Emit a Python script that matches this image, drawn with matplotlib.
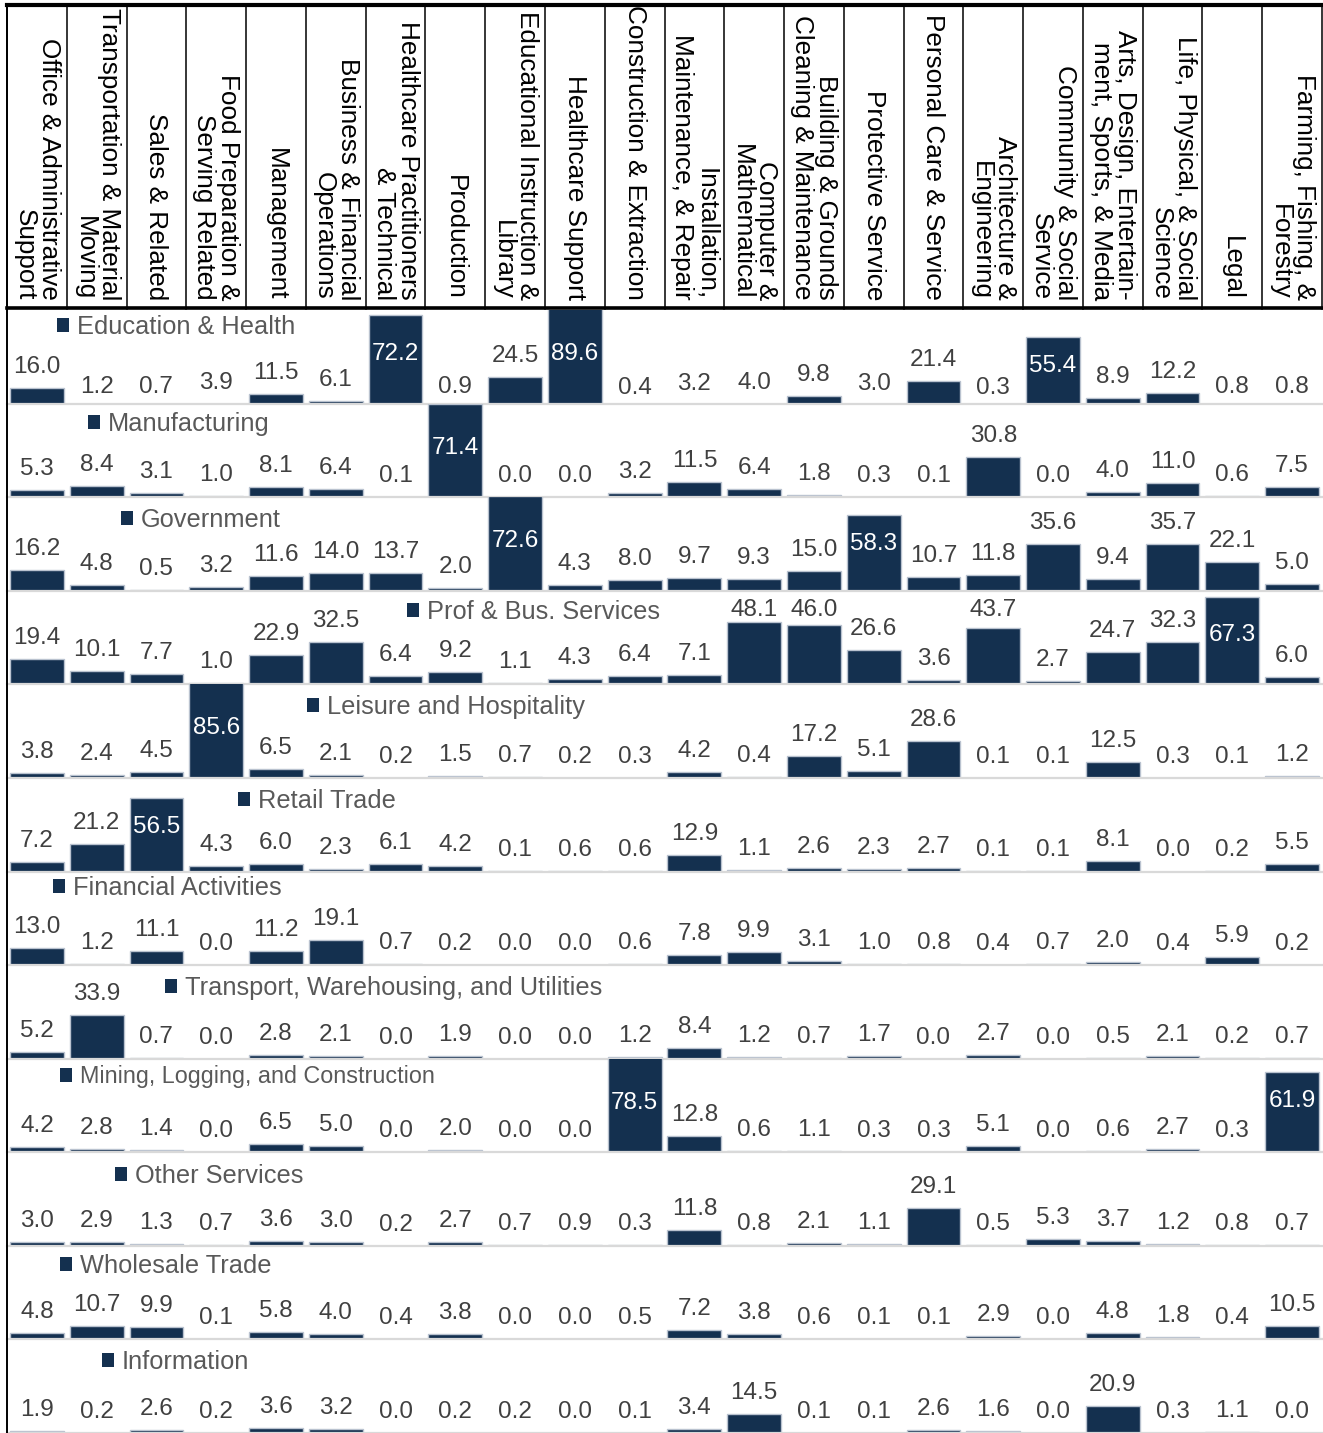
import matplotlib
matplotlib.use("Agg")
import matplotlib.pyplot as plt
from matplotlib.patches import Patch
from matplotlib.lines import Line2D

plt.rcParams['font.family'] = ['Liberation Sans', 'DejaVu Sans']

# ---------------- data ----------------
occupations = [
    "Office & Administrative\nSupport",
    "Transportation & Material\nMoving",
    "Sales & Related",
    "Food Preparation &\nServing Related",
    "Management",
    "Business & Financial\nOperations",
    "Healthcare Practitioners\n& Technical",
    "Production",
    "Educational Instruction &\nLibrary",
    "Healthcare Support",
    "Construction & Extraction",
    "Installation,\nMaintenance, & Repair",
    "Computer &\nMathematical",
    "Building & Grounds\nCleaning & Maintenance",
    "Protective Service",
    "Personal Care & Service",
    "Architecture &\nEngineering",
    "Community & Social\nService",
    "Arts, Design, Entertain-\nment, Sports, & Media",
    "Life, Physical, & Social\nScience",
    "Legal",
    "Farming, Fishing, &\nForestry",
]

industries = [
    "Education & Health",
    "Manufacturing",
    "Government",
    "Prof & Bus. Services",
    "Leisure and Hospitality",
    "Retail Trade",
    "Financial Activities",
    "Transport, Warehousing, and Utilities",
    "Mining, Logging, and Construction",
    "Other Services",
    "Wholesale Trade",
    "Information",
]

education_health = [16.0, 1.2, 0.7, 3.9, 11.5, 6.1, 72.2, 0.9, 24.5, 89.6, 0.4,
                    3.2, 4.0, 9.8, 3.0, 21.4, 0.3, 55.4, 8.9, 12.2, 0.8, 0.8]
manufacturing = [5.3, 8.4, 3.1, 1.0, 8.1, 6.4, 0.1, 71.4, 0.0, 0.0, 3.2,
                 11.5, 6.4, 1.8, 0.3, 0.1, 30.8, 0.0, 4.0, 11.0, 0.6, 7.5]
government = [16.2, 4.8, 0.5, 3.2, 11.6, 14.0, 13.7, 2.0, 72.6, 4.3, 8.0,
              9.7, 9.3, 15.0, 58.3, 10.7, 11.8, 35.6, 9.4, 35.7, 22.1, 5.0]
prof_bus = [19.4, 10.1, 7.7, 1.0, 22.9, 32.5, 6.4, 9.2, 1.1, 4.3, 6.4,
            7.1, 48.1, 46.0, 26.6, 3.6, 43.7, 2.7, 24.7, 32.3, 67.3, 6.0]
leisure = [3.8, 2.4, 4.5, 85.6, 6.5, 2.1, 0.2, 1.5, 0.7, 0.2, 0.3,
           4.2, 0.4, 17.2, 5.1, 28.6, 0.1, 0.1, 12.5, 0.3, 0.1, 1.2]
retail = [7.2, 21.2, 56.5, 4.3, 6.0, 2.3, 6.1, 4.2, 0.1, 0.6, 0.6,
          12.9, 1.1, 2.6, 2.3, 2.7, 0.1, 0.1, 8.1, 0.0, 0.2, 5.5]
financial = [13.0, 1.2, 11.1, 0.0, 11.2, 19.1, 0.7, 0.2, 0.0, 0.0, 0.6,
             7.8, 9.9, 3.1, 1.0, 0.8, 0.4, 0.7, 2.0, 0.4, 5.9, 0.2]
transport = [5.2, 33.9, 0.7, 0.0, 2.8, 2.1, 0.0, 1.9, 0.0, 0.0, 1.2,
             8.4, 1.2, 0.7, 1.7, 0.0, 2.7, 0.0, 0.5, 2.1, 0.2, 0.7]
mining = [4.2, 2.8, 1.4, 0.0, 6.5, 5.0, 0.0, 2.0, 0.0, 0.0, 78.5,
          12.8, 0.6, 1.1, 0.3, 0.3, 5.1, 0.0, 0.6, 2.7, 0.3, 61.9]
other_services = [3.0, 2.9, 1.3, 0.7, 3.6, 3.0, 0.2, 2.7, 0.7, 0.9, 0.3,
                  11.8, 0.8, 2.1, 1.1, 29.1, 0.5, 5.3, 3.7, 1.2, 0.8, 0.7]
wholesale = [4.8, 10.7, 9.9, 0.1, 5.8, 4.0, 0.4, 3.8, 0.0, 0.0, 0.5,
             7.2, 3.8, 0.6, 0.1, 0.1, 2.9, 0.0, 4.8, 1.8, 0.4, 10.5]
information = [1.9, 0.2, 2.6, 0.2, 3.6, 3.2, 0.0, 0.2, 0.2, 0.0, 0.1,
               3.4, 14.5, 0.1, 0.1, 2.6, 1.6, 0.0, 20.9, 0.3, 1.1, 0.0]

series = [education_health, manufacturing, government, prof_bus, leisure, retail,
          financial, transport, mining, other_services, wholesale, information]

# ---------------- layout / style ----------------
W, H = 1323, 1433
NAVY = '#14304f'
EDGE = '#b9c2cf'
LABEL_GRAY = '#404040'
LEGEND_GRAY = '#595959'

X0, X1 = 7, 1322
HEAD_TOP, HEAD_BOT = 5, 309
ROW_TOP = 310
ROW_H = (H - ROW_TOP) / 12.0
UNITS = 72.0
PPU = ROW_H / UNITS           # pixels per data unit

# legend anchor (square left x, centre y) in pixels, per row
legend_pos = [(57, 327), (88, 424), (121, 520), (407, 612), (307, 707), (238, 801),
              (53, 888), (165, 988), (60, 1077), (115, 1176), (60, 1266), (102, 1362)]
legend_fs = [18.3, 18.3, 18.3, 18.3, 18.3, 18.3, 18.3, 18.3, 16.8, 18.3, 18.3, 18.3]
hidden_units = [4.3] + [0.0] * 11   # part of first row's baseline hidden under next row

fig = plt.figure(figsize=(W / 100, H / 100), dpi=100)

# ---------------- header ----------------
hax = fig.add_axes([X0 / W, 1 - HEAD_BOT / H, (X1 - X0) / W, (HEAD_BOT - HEAD_TOP) / H])
hax.set_xlim(0, 22)
hax.set_ylim(HEAD_BOT, HEAD_TOP)
hax.axis('off')
for k in range(23):
    hax.plot([k, k], [HEAD_TOP, HEAD_BOT], color='black', lw=1.1, clip_on=False)
for k, lab in enumerate(occupations):
    hax.text(k + 0.5, 300, lab, rotation=-90, ha='center', va='bottom',
             multialignment='right', fontsize=18.8, linespacing=1.0, color='black')

# ---------------- rows ----------------
x = list(range(22))
for i, (name, vals) in enumerate(zip(industries, series)):
    top = ROW_TOP + i * ROW_H
    ax = fig.add_axes([X0 / W, 1 - (top + ROW_H) / H, (X1 - X0) / W, ROW_H / H])
    lo = hidden_units[i]
    hi = lo + UNITS
    ax.set_xlim(-0.5, 21.5)
    ax.set_ylim(lo, hi)
    ax.bar(x, vals, width=0.9, color=NAVY, edgecolor=EDGE, linewidth=1.0, zorder=2)
    for s in ['top', 'left', 'right']:
        ax.spines[s].set_visible(False)
    ax.spines['bottom'].set_color('#d9d9d9')
    ax.spines['bottom'].set_linewidth(1.6)
    ax.set_xticks([])
    ax.set_yticks([])
    ax.patch.set_alpha(0)

    for xi, v in zip(x, vals):
        base = v + 15 / PPU
        cap = hi - 25 / PPU
        color = LABEL_GRAY
        if base > cap:
            base = cap
        if base < v + 3 / PPU:
            color = 'white'
            if v < hi - 8 / PPU:
                base = v - 35 / PPU
            else:
                base = hi - 50 / PPU
        ax.text(xi, base, f"{v:.1f}", ha='center', va='baseline', fontsize=17.5,
                color=color, clip_on=False, zorder=3)

    lx, ly = legend_pos[i]
    fs = legend_fs[i]
    fpx = fs * 100 / 72
    leg = ax.legend(handles=[Patch(facecolor=NAVY, edgecolor='none')], labels=[name],
                    loc='center left', bbox_to_anchor=(lx / W, 1 - ly / H),
                    bbox_transform=fig.transFigure, frameon=False, fontsize=fs,
                    handlelength=12 / fpx, handleheight=12 / fpx,
                    handletextpad=8 / fpx, borderpad=0, borderaxespad=0)
    for t in leg.get_texts():
        t.set_color(LEGEND_GRAY)

# ---------------- frame lines ----------------
fig.add_artist(Line2D([X0 / W, 1.0], [1 - HEAD_TOP / H] * 2, color='black', lw=3.0,
                      transform=fig.transFigure))
fig.add_artist(Line2D([X0 / W, X1 / W], [1 - (HEAD_BOT - 1) / H] * 2, color='black', lw=2.6,
                      transform=fig.transFigure))
fig.add_artist(Line2D([X0 / W] * 2, [1 - HEAD_TOP / H, 0], color='black', lw=1.4,
                      transform=fig.transFigure))

fig.savefig('out.png', dpi=100)
